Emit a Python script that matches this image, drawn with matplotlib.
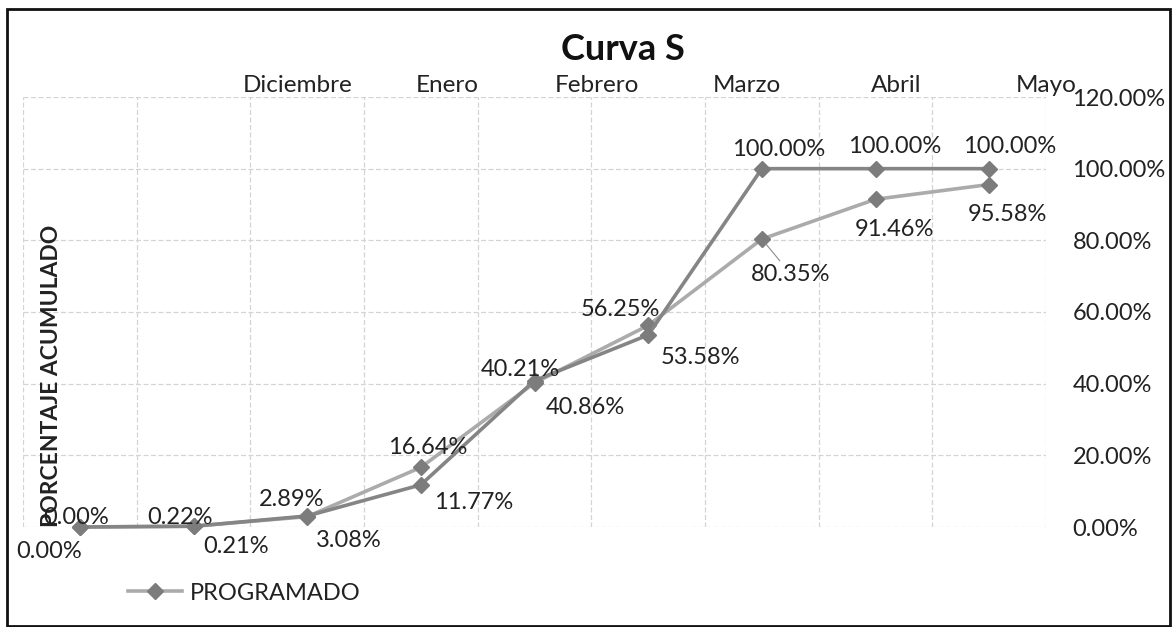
import numpy as np
import matplotlib
matplotlib.use("Agg")
import matplotlib.pyplot as plt
from matplotlib.patches import Rectangle

plt.rcParams['font.family'] = ['Lato', 'DejaVu Sans']

# datos (porcentaje acumulado)
puntos = np.arange(9)
programado = [0.00, 0.22, 2.89, 16.64, 40.21, 56.25, 80.35, 91.46, 95.58]
ejecutado = [0.00, 0.21, 3.08, 11.77, 40.86, 53.58, 100.00, 100.00, 100.00]
meses = ['Diciembre', 'Enero', 'Febrero', 'Marzo', 'Abril', 'Mayo']
ticks_y = [0, 20, 40, 60, 80, 100, 120]

# desplazamiento de etiquetas en pixeles
off_prog = [(-4, 9), (-13, 9), (-16, 17), (7, 20), (-14, 13), (-28, 16), (29, -35), (19, -30), (18, -30)]
off_ejec = [(-31, -25), (43, -20), (42, -25), (53, -18), (51, -27), (52, -22), (17, 19), (19, 22), (20, 22)]

fig = plt.figure(figsize=(11.74, 6.27), dpi=100, facecolor='white')
ax = fig.add_axes([23 / 1174, 1 - 527 / 627, 1023 / 1174, 430 / 627])

ax.plot(puntos, programado, color='#ababab', lw=2.6, marker='D', ms=8,
        mfc='#7c7c7c', mec='#7c7c7c', label='PROGRAMADO', clip_on=False, zorder=3)
ax.plot(puntos, ejecutado, color='#858585', lw=2.6, marker='D', ms=8,
        mfc='#7c7c7c', mec='#7c7c7c', clip_on=False, zorder=4)

for i, v in enumerate(programado):
    arrow = dict(arrowstyle='-', color='#8c8c8c', lw=0.8, shrinkA=0, shrinkB=4) if i == 6 else None
    ax.annotate(f'{v:.2f}%', (puntos[i], v), xytext=off_prog[i], textcoords='offset pixels',
                ha='center', va='center', fontsize=17, color='#222222', arrowprops=arrow, zorder=5)
for i, v in enumerate(ejecutado):
    ax.annotate(f'{v:.2f}%', (puntos[i], v), xytext=off_ejec[i], textcoords='offset pixels',
                ha='center', va='center', fontsize=17, color='#222222', zorder=5)

ax.set_xlim(-0.5, 8.5)
ax.set_ylim(0, 120)
ax.set_xticks(np.arange(-0.5, 9, 1))
ax.set_xticklabels([])
ax.yaxis.tick_right()
ax.set_yticks(ticks_y)
ax.set_yticklabels([f'{t:.2f}%' for t in ticks_y], fontsize=17, color='#222222')
ax.tick_params(axis='both', length=0)
ax.tick_params(axis='y', pad=19)
for lado in ['y', 'x']:
    ax.grid(True, axis=lado, color='#d4d4d4', lw=0.9, ls=(0, (4, 2)))
ax.set_axisbelow(True)
for s in ax.spines.values():
    s.set_visible(False)

# eje superior con los meses
ax_top = ax.twiny()
ax_top.set_xlim(-1.833, 4.888)
ax_top.set_xticks(range(len(meses)))
ax_top.set_xticklabels(meses, fontsize=17.5, color='#222222')
ax_top.tick_params(axis='x', length=0, pad=1)
for s in ax_top.spines.values():
    s.set_visible(False)

ax.text(29 / 1023, 0.351, 'PORCENTAJE ACUMULADO', transform=ax.transAxes, rotation=90,
        ha='center', va='center', fontsize=16.5, fontweight='bold', color='#222222', zorder=6)

fig.text(623 / 1174, 1 - 50 / 627, 'Curva S', ha='center', va='center',
         fontsize=26, fontweight='bold', color='#111111')

fig.legend(loc='center left', bbox_to_anchor=(128 / 1174, 1 - 593 / 627), frameon=False,
           fontsize=17, borderpad=0, borderaxespad=0, handlelength=2.3, handletextpad=0.3,
           labelcolor='#222222')

fig.patches.append(Rectangle((7 / 1174, 1 / 627), 1163 / 1174, 617 / 627, transform=fig.transFigure,
                             fill=False, edgecolor='#111111', lw=2))

fig.savefig('out.png', dpi=100, facecolor='white')
